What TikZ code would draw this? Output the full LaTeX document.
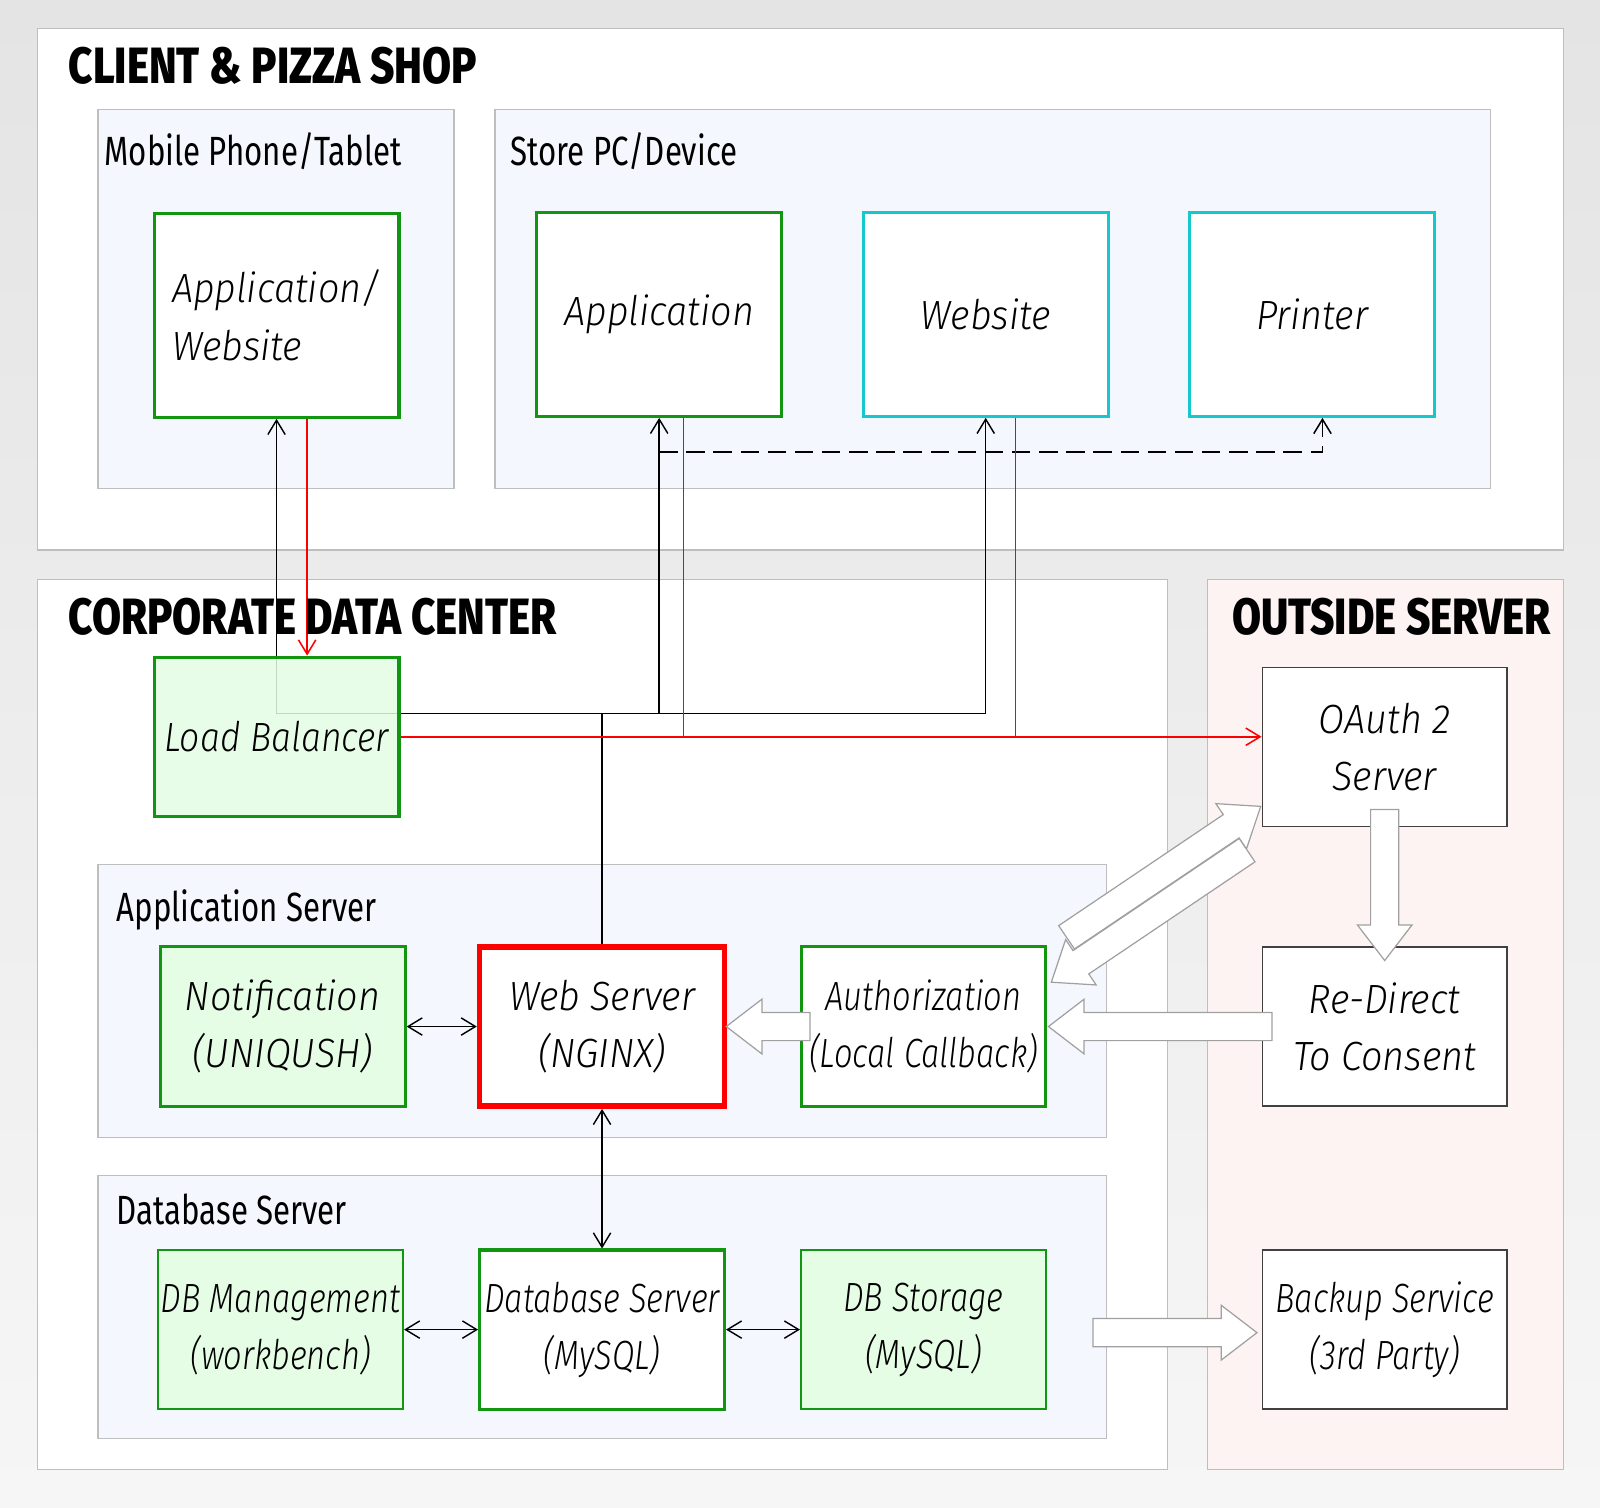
\documentclass[tikz,border=0pt]{standalone}
\usepackage{fontspec}
\setmainfont{Fira Sans}
\newfontfamily\headfont{Fira Sans ExtraBold}[FakeStretch=0.825]
\newfontfamily\labelfont{Fira Sans}[FakeStretch=0.765]
\newfontfamily\boxfont{Fira Sans Light}[FakeStretch=0.925]
\newfontfamily\midfont{Fira Sans Light}[FakeStretch=0.87]
\newfontfamily\tightfont{Fira Sans Light}[FakeStretch=0.8]
\usetikzlibrary{arrows.meta,shapes.arrows,calc,backgrounds}

\definecolor{bgtop}{RGB}{228,228,228}
\definecolor{bgbot}{RGB}{246,246,246}
\definecolor{panelline}{RGB}{190,190,190}
\definecolor{subfill}{RGB}{244,247,253}
\definecolor{pinkfill}{RGB}{253,243,243}
\definecolor{boxgreen}{RGB}{18,150,18}
\definecolor{lightgreen}{RGB}{229,253,229}
\definecolor{boxcyan}{RGB}{20,200,205}
\definecolor{outline}{RGB}{160,160,160}

\tikzset{
	panel/.style={draw=panelline, line width=0.6pt},
	paneltitle/.style={anchor=base west, inner sep=0pt, font=\headfont\fontsize{25}{30}\selectfont},
	sublabel/.style={anchor=base west, inner sep=0pt, font=\labelfont\fontsize{20}{24}\selectfont},
	box/.style={minimum width=120pt, minimum height=78pt, inner xsep=0pt, inner ysep=2pt, align=center, font=\boxfont\itshape\fontsize{20}{28}\selectfont},
	narrow/.style={font=\tightfont\itshape\fontsize{20}{28}\selectfont},
	clientbox/.style={minimum height=100pt},
	greenbox/.style={box, draw=boxgreen, line width=1.5pt, fill=white},
	cyanbox/.style={box, draw=boxcyan, line width=1.5pt, fill=white},
	outbox/.style={box, draw=black!75, line width=0.7pt, fill=white},
	link/.style={line width=0.7pt},
	redlink/.style={red, line width=0.75pt},
	dashlink/.style={line width=0.75pt, dash pattern=on 9pt off 4.3pt},
	fatarrow/.style={single arrow, draw=outline, fill=white, line width=0.6pt, inner sep=0pt, inner ysep=6.6pt, single arrow head extend=6.5pt, single arrow tip angle=75, anchor=tip}
}

\begin{document}
\begin{tikzpicture}[x=0.5pt,y=-0.5pt,>={Straight Barb[length=7pt,width=8.5pt]}]
	\useasboundingbox (0,0) rectangle (1568,1477);
	% titles
	\node[paneltitle] (clienttitle) at (67,82) {CLIENT \& PIZZA SHOP};
	\node[paneltitle] (dctitle) at (67,622) {CORPORATE DATA CENTER};
	\node[paneltitle] (outtitle) at (1207,622) {OUTSIDE SERVER};
	\node[sublabel] (mobilelabel) at (102,162) {Mobile Phone/Tablet};
	\node[sublabel] (storelabel) at (500,162) {Store PC/Device};
	\node[sublabel] (appserverlabel) at (114,903) {Application Server};
	\node[sublabel] (dbserverlabel) at (114,1200) {Database Server};
	% client side
	\node[greenbox, clientbox, align=left] (appweb) at (271,309) {Application/\\Website};
	\node[greenbox, clientbox] (app) at (646,308) {Application};
	\node[cyanbox, clientbox] (site) at (966,308) {Website};
	\node[cyanbox, clientbox] (printer) at (1286,308) {Printer};
	% data center
	\node[greenbox, fill=lightgreen, fill opacity=0.85, text opacity=1, font=\midfont\itshape\fontsize{20}{28}\selectfont] (lb) at (271,722) {Load Balancer};
	\node[greenbox, fill=lightgreen] (notify) at (277,1006) {Notification\\(UNIQUSH)};
	\node[box, draw=red, line width=2.75pt, fill=white] (nginx) at (590,1006) {Web Server\\(NGINX)};
	\node[greenbox, narrow] (auth) at (905,1006) {Authorization\\(Local Callback)};
	\node[greenbox, narrow, fill=lightgreen, line width=1pt] (dbadmin) at (275,1303) {DB Management\\(workbench)};
	\node[greenbox, narrow] (mysql) at (590,1303) {Database Server\\(MySQL)};
	\node[greenbox, narrow, fill=lightgreen, line width=1pt] (storage) at (905,1303) {DB Storage\\(MySQL)};
	% outside
	\node[outbox] (oauth) at (1357,732) {OAuth 2\\Server};
	\node[outbox] (redirect) at (1357,1006) {Re-Direct\\To Consent};
	\node[outbox, narrow] (backup) at (1357,1303) {Backup Service\\(3rd Party)};

	\begin{scope}[on background layer]
		\shade[top color=bgtop, bottom color=bgbot] (0,0) rectangle (1568,1477);
		\draw[panel, fill=white] (37,28) rectangle (1532,539);
		\draw[panel, fill=subfill] (96,107) rectangle (445,479);
		\draw[panel, fill=subfill] (485,107) rectangle (1461,479);
		\draw[panel, fill=white] (37,568) rectangle (1144,1440);
		\draw[panel, fill=pinkfill] (1183,568) rectangle (1532,1440);
		\draw[panel, fill=subfill] (96,847) rectangle (1084,1115);
		\draw[panel, fill=subfill] (96,1152) rectangle (1084,1410);
		% black links
		\coordinate (hub) at (590,699);
		\coordinate (split) at (646,443);
		\draw[link] (nginx.north) -- (hub);
		\draw[link,->] (hub) -| (appweb.south);
		\draw[link,->] (hub) -| (app.south);
		\draw[link,->] (hub) -| (site.south);
		\draw[dashlink,->] (split) -| ([xshift=5pt]printer.south);
		\draw[link,<->] (notify) -- (nginx);
		\draw[link,<->] (nginx) -- (mysql);
		\draw[link,<->] (dbadmin) -- (mysql);
		\draw[link,<->] (mysql) -- (storage);
		% red links
		\coordinate (appred) at ([xshift=12pt]app.south);
		\coordinate (sitered) at ([xshift=14.5pt]site.south);
		\draw[redlink,->] ([xshift=15pt]appweb.south) -- ([xshift=15pt]lb.north);
		\draw[redlink,->] (lb.east) -- (lb.east -| oauth.west);
		\draw[redlink] (appred) -- (appred |- lb.east);
		\draw[redlink] (sitered) -- (sitered |- lb.east);
	\end{scope}

	% block arrows
	\node[fatarrow, minimum height=41pt, rotate=180] (callback) at ([xshift=-1pt]nginx.east) {};
	\node[fatarrow, minimum height=109.5pt, rotate=180] (consent) at (auth.east) {};
	\node[fatarrow, minimum height=74pt, rotate=-90] (redirectdown) at ($(redirect.north)+(0,15)$) {};
	\node[fatarrow, minimum height=114.75pt, rotate=34] (tooauth) at ($(oauth.south west)+(0,-21)$) {};
	\node[fatarrow, minimum height=115.7pt, rotate=214] (fromoauth) at ($(auth.north east)+(3,36.6)$) {};
	\node[fatarrow, minimum height=80.3pt] (tobackup) at ($(backup.west)+(-3.5,3)$) {};
\end{tikzpicture}
\end{document}
